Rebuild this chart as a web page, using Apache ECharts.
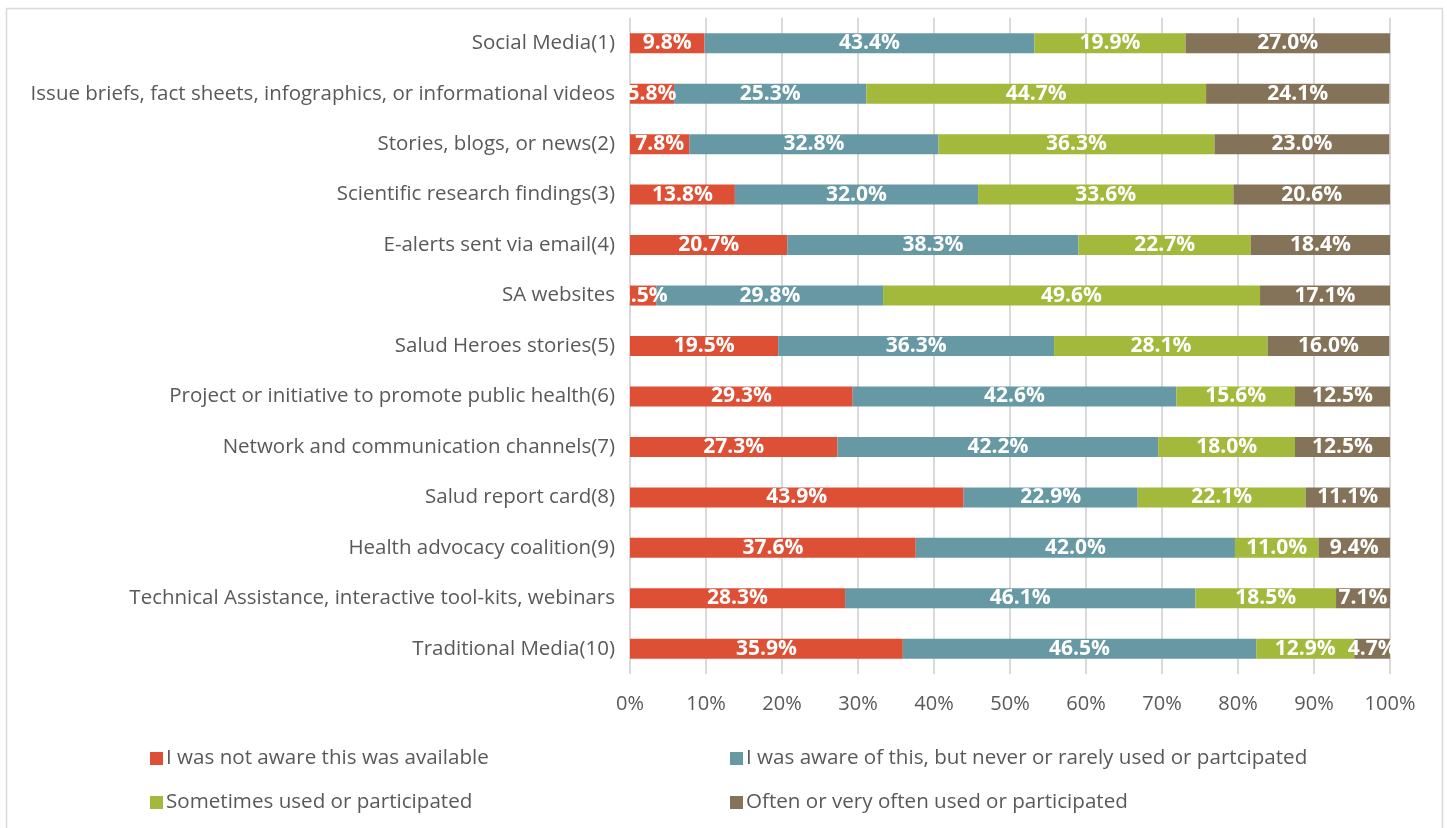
<!DOCTYPE html>
<html>
<head>
<meta charset="utf-8">
<title>Use of communication channels</title>
<script src="https://cdn.jsdelivr.net/npm/echarts@6/dist/echarts.min.js"></script>
<style>
  html, body { margin: 0; padding: 0; background: #ffffff; }
  #chart { width: 1447px; height: 828px; }
</style>
</head>
<body>
<div id="chart"></div>
<script>
// Channels, listed top to bottom
const categories = [
  'Social Media(1)',
  'Issue briefs, fact sheets, infographics, or informational videos',
  'Stories, blogs, or news(2)',
  'Scientific research findings(3)',
  'E-alerts sent via email(4)',
  'SA websites',
  'Salud Heroes stories(5)',
  'Project or initiative to promote public health(6)',
  'Network and communication channels(7)',
  'Salud report card(8)',
  'Health advocacy coalition(9)',
  'Technical Assistance, interactive tool-kits, webinars',
  'Traditional Media(10)'
];

const seriesNames = [
  'I was not aware this was available',
  'I was aware of this, but never or rarely used or partcipated',
  'Sometimes used or participated',
  'Often or very often used or participated'
];

// Percent of respondents per channel
const notAware     = [9.8, 5.8, 7.8, 13.8, 20.7, 3.5, 19.5, 29.3, 27.3, 43.9, 37.6, 28.3, 35.9];
const awareRarely  = [43.4, 25.3, 32.8, 32.0, 38.3, 29.8, 36.3, 42.6, 42.2, 22.9, 42.0, 46.1, 46.5];
const sometimes    = [19.9, 44.7, 36.3, 33.6, 22.7, 49.6, 28.1, 15.6, 18.0, 22.1, 11.0, 18.5, 12.9];
const often        = [27.0, 24.1, 23.0, 20.6, 18.4, 17.1, 16.0, 12.5, 12.5, 11.1, 9.4, 7.1, 4.7];

const xTicks = [0, 10, 20, 30, 40, 50, 60, 70, 80, 90, 100];

const colors = ['#DE5035', '#6699A3', '#A2B93C', '#857359'];
const values = [notAware, awareRarely, sometimes, often];

const FONT = '"Open Sans", "Liberation Sans", sans-serif';
const TEXT = '#595959';

const chart = echarts.init(document.getElementById('chart'), null, { renderer: 'canvas' });

const legendSpots = [
  { left: 145, top: 743 },
  { left: 725, top: 743 },
  { left: 145, top: 787 },
  { left: 725, top: 787 }
];

chart.setOption({
  backgroundColor: '#ffffff',
  animation: false,
  textStyle: { fontFamily: FONT },
  graphic: [{
    type: 'rect',
    shape: { x: 6.5, y: 8.5, width: 1436, height: 840 },
    style: { fill: 'none', stroke: '#d9d9d9', lineWidth: 1.5 },
    silent: true
  }],
  legend: seriesNames.map((name, i) => ({
    data: [name],
    left: legendSpots[i].left,
    top: legendSpots[i].top,
    icon: 'rect',
    itemWidth: 13,
    itemHeight: 13,
    itemGap: 6,
    selectedMode: false,
    textStyle: { color: TEXT, fontSize: 20.6, fontFamily: FONT, padding: [0, 0, 0, -2] }
  })),
  grid: { left: 630, right: 57, top: 18, bottom: 154, containLabel: false },
  xAxis: {
    type: 'value',
    min: xTicks[0],
    max: xTicks[xTicks.length - 1],
    interval: 10,
    axisLine: { show: false },
    axisTick: { show: false },
    splitLine: { show: true, lineStyle: { color: '#d9d9d9', width: 2 } },
    axisLabel: {
      color: TEXT,
      fontSize: 20,
      fontFamily: FONT,
      margin: 20,
      formatter: v => v + '%'
    }
  },
  yAxis: {
    type: 'category',
    inverse: true,
    data: categories,
    axisLine: { show: false },
    axisTick: { show: false },
    axisLabel: { color: TEXT, fontSize: 20.5, fontFamily: FONT, margin: 15 }
  },
  series: seriesNames.map((name, i) => ({
    name: name,
    type: 'bar',
    stack: 'total',
    barWidth: 20,
    data: values[i],
    itemStyle: { color: colors[i] },
    label: {
      show: true,
      position: 'inside',
      color: '#ffffff',
      fontSize: 21,
      fontWeight: 'bold',
      fontFamily: FONT,
      formatter: p => p.value.toFixed(1) + '%'
    }
  }))
});
</script>
</body>
</html>
